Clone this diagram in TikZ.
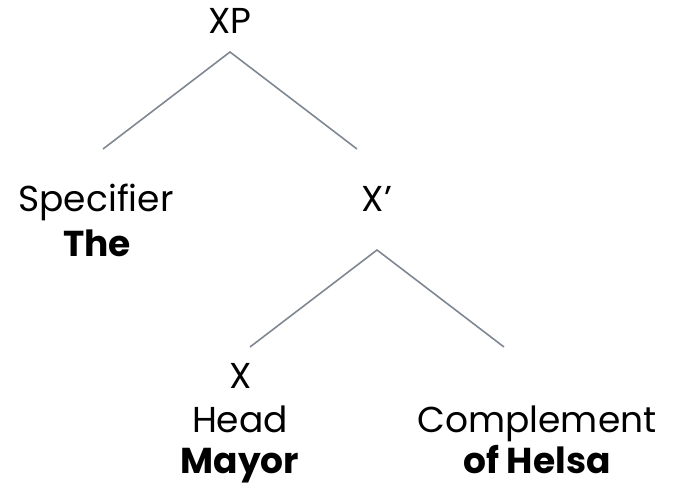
\documentclass[tikz,border=0pt]{standalone}
\usepackage{fontspec}
\setmainfont{Poppins}
\definecolor{branchgrey}{HTML}{7F8791}
\begin{document}
\begin{tikzpicture}[x=1pt,y=-1pt,
  lbl/.style={anchor=base, inner sep=0pt, font=\fontsize{36}{43}\selectfont},
  wordlbl/.style={lbl, font=\fontsize{36}{43}\selectfont\bfseries},
  branch/.style={draw=branchgrey, line width=1.6pt}]
\useasboundingbox (0,0) rectangle (673,484);

% phrase level
\node[lbl] (xp) at (230,34) {XP};
\coordinate (xptop) at (230,52);
\coordinate (specend) at (103,149);
\coordinate (barend) at (357,149);

% specifier
\node[lbl] (spec) at (96,212) {Specifier};
\node[wordlbl] (the) at (97,257) {The};

% intermediate projection
\node[lbl] (xbar) at (377,212) {X’};
\coordinate (xbartop) at (377,250);
\coordinate (headend) at (250,347);
\coordinate (compend) at (504,347);

% head
\node[lbl] (x) at (241,388) {X};
\node[lbl] (head) at (240,432) {Head};
\node[wordlbl] (mayor) at (240,473) {Mayor};

% complement
\node[lbl] (comp) at (537,432) {Complement};
\node[wordlbl] (helsa) at (537,473) {of Helsa};

\draw[branch] (specend) -- (xptop) -- (barend);
\draw[branch] (headend) -- (xbartop) -- (compend);
\end{tikzpicture}
\end{document}
